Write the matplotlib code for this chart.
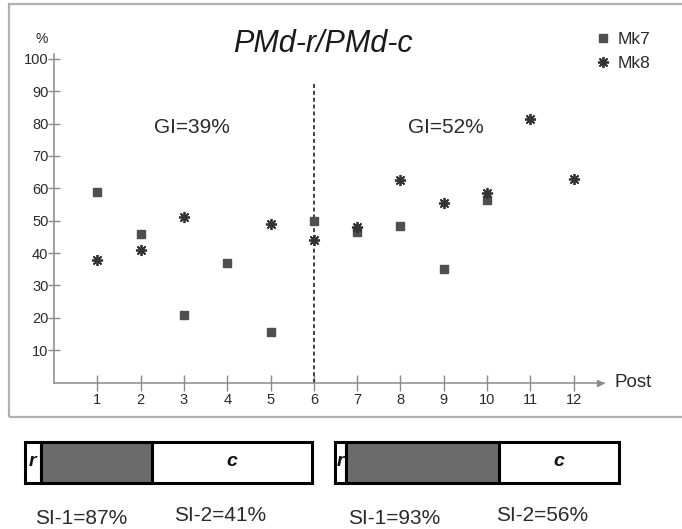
import matplotlib
matplotlib.use("Agg")
import matplotlib.pyplot as plt
from matplotlib.patches import Rectangle

plt.rcParams["font.family"] = ["Liberation Sans", "DejaVu Sans"]

# data
posts = [1, 2, 3, 4, 5, 6, 7, 8, 9, 10, 11, 12]
mk7_x = [1, 2, 3, 4, 5, 6, 7, 8, 9, 10]
mk7_y = [59, 46, 21, 37, 15.5, 50, 46.5, 48.5, 35, 56.5]
mk8_x = [1, 2, 3, 5, 6, 7, 8, 9, 10, 11, 12]
mk8_y = [38, 41, 51, 49, 44, 48, 62.5, 55.5, 58.5, 81.5, 63]
y_ticks = [10, 20, 30, 40, 50, 60, 70, 80, 90, 100]
split_post = 6
gi_labels = ["GI=39%", "GI=52%"]
si1 = [0.87, 0.93]
si2 = [0.41, 0.56]

W, H = 682, 529
TEXT = "#2a2a2a"
AXC = "#8a8a8a"
MARK = "#4f4f4f"
GRAY_FILL = "#6b6b6b"


def px(x0, y0, x1, y1):
    # pixel box (top-left origin) -> figure fraction rect
    return [x0 / W, 1 - y1 / H, (x1 - x0) / W, (y1 - y0) / H]


fig = plt.figure(figsize=(W / 100, H / 100), dpi=100, facecolor="white")

# outer light frame around the scatter panel
fig.add_artist(Rectangle((9 / W, 1 - 417 / H), 1.0, (417 - 4) / H,
                         transform=fig.transFigure, fill=False,
                         edgecolor="#b0b0b0", linewidth=1.6))

ax = fig.add_axes(px(54, 54, 604, 382.5))
ax.set_xlim(0, 12.7)
ax.set_ylim(0, 101.5)
for s in ["top", "right"]:
    ax.spines[s].set_visible(False)
for s in ["left", "bottom"]:
    ax.spines[s].set_color(AXC)
    ax.spines[s].set_linewidth(1.1)

ax.set_xticks(posts)
ax.set_yticks(y_ticks)
ax.tick_params(axis="x", direction="inout", length=11, width=1, color=AXC,
               labelsize=10.5, labelcolor=TEXT, pad=2)
ax.tick_params(axis="y", direction="inout", length=9, width=1, color=AXC,
               labelsize=10.5, labelcolor=TEXT, pad=-0.5)

ax.axvline(split_post, ymin=0, ymax=93 / 101.5, color="#333333",
           linestyle=(0, (2.2, 1.6)), linewidth=1.3)

ax.plot(mk7_x, mk7_y, linestyle="none", marker="s", markersize=6,
        color=MARK, label="Mk7", clip_on=False)
ax.plot(mk8_x, mk8_y, linestyle="none", marker=(8, 2, 0), markersize=8,
        markeredgewidth=1.3, color="#333333", label="Mk8", clip_on=False)

# axis arrow and label
ax.plot([1 - 4 / 550], [0], marker=">", markersize=5, color=AXC,
        transform=ax.get_yaxis_transform(), clip_on=False)
ax.text(1.02, 0, "Post", transform=ax.get_yaxis_transform(), ha="left",
        va="center", fontsize=13.5, color=TEXT)
ax.text(-0.022, 106.2, "%", transform=ax.get_yaxis_transform(), ha="center",
        va="center", fontsize=10, color=TEXT)

ax.text(3.19, 78.7, gi_labels[0], ha="center", va="center", fontsize=15,
        color=TEXT)
ax.text(9.05, 78.7, gi_labels[1], ha="center", va="center", fontsize=15,
        color=TEXT)

fig.text(323 / W, 1 - 51.7 / H, "PMd-r/PMd-c", ha="center", va="baseline",
         fontsize=22, style="italic", color="#1a1a1a")

ax.legend(loc="upper left", bbox_to_anchor=(586 / W, 1 - 23 / H),
          bbox_transform=fig.transFigure, frameon=False, fontsize=12.5,
          handlelength=1.0, handletextpad=0.3, labelspacing=0.5,
          borderpad=0, numpoints=1, labelcolor=TEXT)

# bottom selectivity bars: r | gray | c
box_px = [(24.5, 311.5), (334.5, 618.5)]
si1_pos = [0.197, 0.209]
si2_pos = [0.68, 0.73]
for i in range(2):
    x0, x1 = box_px[i]
    bx = fig.add_axes(px(x0, 441.5, x1, 482.5))
    bx.set_xlim(0, 1)
    bx.set_ylim(0, 1)
    bx.axis("off")
    ratio = si2[i] * (1 - si1[i]) / si1[i]
    G = 1 / (1 + ratio)
    r_w = ratio * G
    g_w = si2[i] * G
    c_w = (1 - si2[i]) * G
    lefts = [0, r_w, r_w + g_w]
    widths = [r_w, g_w, c_w]
    fills = ["white", GRAY_FILL, "white"]
    bx.barh([0.5] * 3, widths, left=lefts, height=1.0, color=fills,
            edgecolor="black", linewidth=2.2, clip_on=False)
    bx.text(r_w / 2, 0.5, "r", ha="center", va="center", fontsize=14,
            style="italic", weight="bold", color="#111111")
    bx.text(r_w + g_w + c_w / 2, 0.5, "c", ha="center", va="center",
            fontsize=14, style="italic", weight="bold", color="#111111")
    bx.text(si1_pos[i], -0.866, f"SI-1={si1[i] * 100:.0f}%", ha="center",
            va="center", fontsize=15, color=TEXT, clip_on=False)
    bx.text(si2_pos[i], -0.817, f"SI-2={si2[i] * 100:.0f}%", ha="center",
            va="center", fontsize=15, color=TEXT, clip_on=False)

fig.savefig("out.png", dpi=100, facecolor="white")
